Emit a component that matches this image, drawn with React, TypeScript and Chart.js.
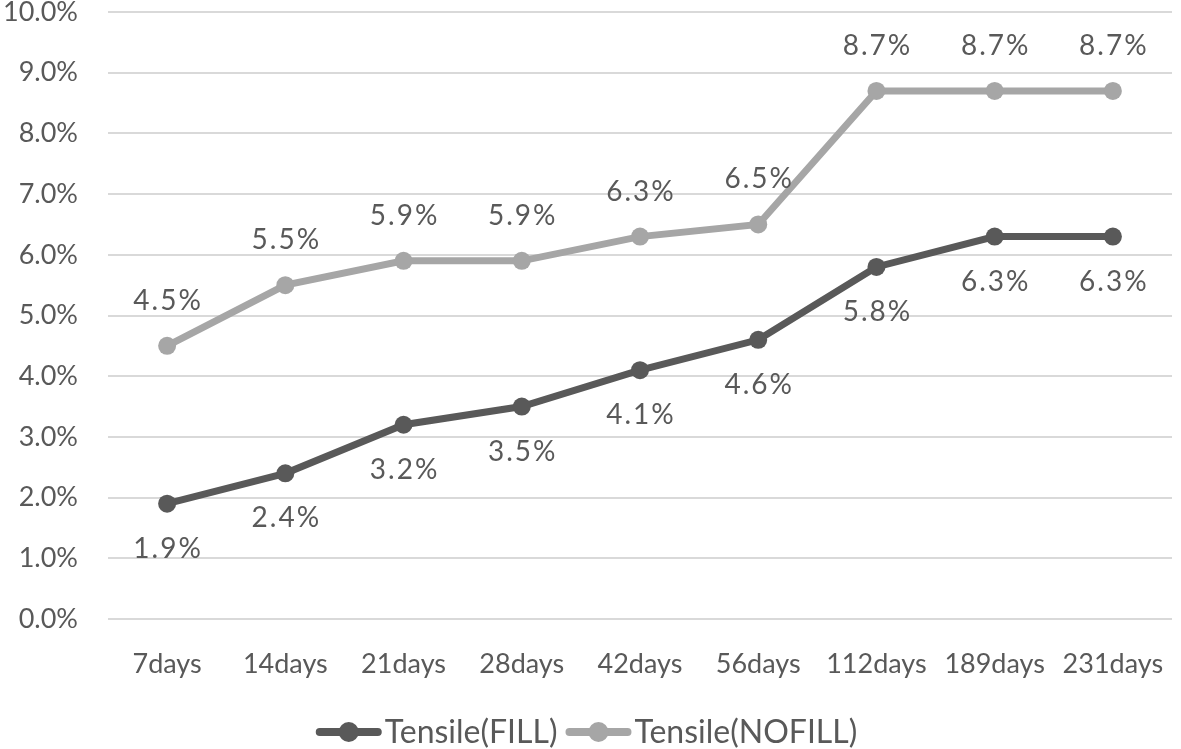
import React, { useEffect, useRef } from "react";
import { Chart, registerables } from "chart.js";

Chart.register(...registerables);

const categories = ["7days", "14days", "21days", "28days", "42days", "56days", "112days", "189days", "231days"];
const fillValues = [1.9, 2.4, 3.2, 3.5, 4.1, 4.6, 5.8, 6.3, 6.3];
const nofillValues = [4.5, 5.5, 5.9, 5.9, 6.3, 6.5, 8.7, 8.7, 8.7];
const seriesNames = ["Tensile(FILL)", "Tensile(NOFILL)"];
const seriesColors = ["#595959", "#a6a6a6"];

const FONT = "Lato, 'Open Sans', sans-serif";
const TEXT = "#595959";

const labelPlugin = {
  id: "pointLabels",
  afterDatasetsDraw(chart: any) {
    const ctx = chart.ctx;
    ctx.save();
    ctx.font = `28px ${FONT}`;
    (ctx as any).letterSpacing = "2px";
    ctx.fillStyle = TEXT;
    ctx.textAlign = "center";
    ctx.textBaseline = "middle";
    chart.data.datasets.forEach((ds: any, i: number) => {
      const meta = chart.getDatasetMeta(i);
      meta.data.forEach((pt: any, j: number) => {
        const v = ds.data[j] as number;
        const dy = i === 0 ? 45 : -45;
        ctx.fillText(v.toFixed(1) + "%", pt.x + 1, pt.y + dy);
      });
    });
    ctx.restore();
  },
};

const legendPlugin = {
  id: "customLegend",
  afterDraw(chart: any) {
    const ctx = chart.ctx;
    ctx.save();
    ctx.font = `32px ${FONT}`;
    ctx.textBaseline = "middle";
    const y = 732;
    const lineW = 66;
    const gapText = 3;
    const gapItems = 8;
    const widths = seriesNames.map((n) => lineW + gapText + ctx.measureText(n).width);
    const total = widths.reduce((a, b) => a + b, 0) + gapItems;
    let x = (chart.width - total) / 2 - 4;
    seriesNames.forEach((n, i) => {
      ctx.strokeStyle = seriesColors[i];
      ctx.lineWidth = 8;
      ctx.lineCap = "round";
      ctx.beginPath();
      ctx.moveTo(x + 4, y);
      ctx.lineTo(x + lineW - 4, y);
      ctx.stroke();
      ctx.fillStyle = seriesColors[i];
      ctx.beginPath();
      ctx.arc(x + lineW / 2, y, 10, 0, Math.PI * 2);
      ctx.fill();
      ctx.fillStyle = TEXT;
      ctx.textAlign = "left";
      ctx.fillText(n, x + lineW + gapText, y + 1);
      x += widths[i] + gapItems;
    });
    ctx.restore();
  },
};

export default function App() {
  const ref = useRef<HTMLCanvasElement>(null);
  useEffect(() => {
    if (!ref.current) return;
    const chart = new Chart(ref.current, {
      type: "line",
      data: {
        labels: categories,
        datasets: [fillValues, nofillValues].map((d, i) => ({
          label: seriesNames[i],
          data: d,
          borderColor: seriesColors[i],
          backgroundColor: seriesColors[i],
          pointBackgroundColor: seriesColors[i],
          pointBorderColor: seriesColors[i],
          borderWidth: 7,
          pointRadius: 9,
          pointBorderWidth: 0,
          tension: 0,
          fill: false,
        })),
      },
      options: {
        animation: false,
        responsive: true,
        maintainAspectRatio: false,
        layout: { padding: { top: 12, right: 2, bottom: 60, left: 0 } },
        plugins: { legend: { display: false }, tooltip: { enabled: false } },
        scales: {
          x: {
            offset: true,
            grid: { display: false, drawTicks: false },
            border: { display: false },
            ticks: { color: TEXT, font: { family: FONT, size: 27 }, padding: 29, maxRotation: 0, autoSkip: false },
            afterFit: (s: any) => { s.height = 70; s.paddingLeft = 0; s.paddingRight = 0; },
          },
          y: {
            min: 0,
            max: 10,
            ticks: { stepSize: 1, color: TEXT, font: { family: FONT, size: 27 }, padding: 30, callback: (v: any) => Number(v).toFixed(1) + "%" },
            grid: { color: "#d9d9d9", lineWidth: 2, drawTicks: false },
            border: { display: false },
            afterFit: (s: any) => { s.width = 108; s.paddingTop = 0; s.paddingBottom = 0; },
          },
        },
      },
      plugins: [labelPlugin, legendPlugin],
    });
    return () => chart.destroy();
  }, []);
  return (
    <div style={{ position: "fixed", left: 0, top: 0, width: 1181, height: 749, background: "#fff" }}>
      <canvas ref={ref} />
    </div>
  );
}
